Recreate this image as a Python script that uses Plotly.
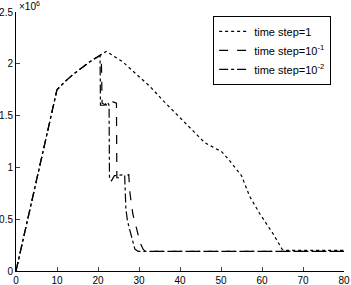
import plotly.graph_objects as go

# x: time, y: value (x10^6)
x_dt1 = [0, 10, 12, 14, 16, 18, 20, 22, 26, 30, 32.7, 36, 40.5, 46, 50.2, 52, 55, 57, 59.5, 62.7, 64.9, 66, 80]
y_dt1 = [0, 1.75, 1.83, 1.9, 1.96, 2.02, 2.07, 2.12, 2.02, 1.88, 1.78, 1.64, 1.46, 1.24, 1.15, 1.07, 0.92, 0.72, 0.55, 0.36, 0.21, 0.2, 0.2]

x_dt01 = [0, 10, 12, 14, 16, 18, 20, 20.8, 21.0, 22.0, 22.5, 24.5, 24.6, 25.5, 27.5, 27.8, 28.5, 29.5, 30.3, 31.0, 31.5, 80]
y_dt01 = [0, 1.75, 1.83, 1.9, 1.96, 2.02, 2.07, 2.09, 1.62, 1.6, 1.65, 1.62, 0.9, 0.9, 0.93, 0.75, 0.55, 0.38, 0.27, 0.21, 0.19, 0.19]

x_dt001 = [0, 10, 12, 14, 16, 18, 20.5, 20.6, 21.5, 22.3, 22.7, 22.8, 23.3, 24.0, 26.5, 26.8, 27.2, 27.8, 28.3, 29.0, 29.8, 80]
y_dt001 = [0, 1.75, 1.83, 1.9, 1.96, 2.02, 2.08, 1.6, 1.6, 1.63, 1.6, 0.89, 0.87, 0.92, 0.93, 0.6, 0.48, 0.38, 0.3, 0.21, 0.19, 0.19]

x_ticks = [0, 10, 20, 30, 40, 50, 60, 70, 80]
y_ticks = [0, 0.5, 1, 1.5, 2, 2.5]
y_tick_labels = ["0", "0.5", "1", "1.5", "2", "2.5"]

font = dict(family="Liberation Sans, Arial, sans-serif", size=10, color="black")

fig = go.Figure()
fig.add_trace(go.Scatter(x=x_dt1, y=y_dt1, mode="lines", name="time step=1",
                         line=dict(color="black", width=1.2, dash="dot")))
fig.add_trace(go.Scatter(x=x_dt01, y=y_dt01, mode="lines", name="time step=10<sup>-1</sup>",
                         line=dict(color="black", width=1.2, dash="dash")))
fig.add_trace(go.Scatter(x=x_dt001, y=y_dt001, mode="lines", name="time step=10<sup>-2</sup>",
                         line=dict(color="black", width=1.2, dash="dashdot")))

fig.update_layout(
    width=351, height=285,
    margin=dict(l=16, r=7, t=12, b=14),
    paper_bgcolor="white", plot_bgcolor="white",
    font=font,
    showlegend=True,
    legend=dict(x=0.601, y=0.985, xanchor="left", yanchor="top",
                bordercolor="black", borderwidth=1, bgcolor="white",
                font=dict(family="Liberation Sans, Arial, sans-serif", size=11, color="black"),
                tracegroupgap=0, itemwidth=30),
    xaxis=dict(range=[0, 80], tickvals=x_ticks, ticks="inside", ticklen=4,
               showline=True, linecolor="black", linewidth=1, showgrid=False,
               zeroline=False, tickfont=font, mirror=False, automargin=False),
    yaxis=dict(range=[0, 2.5], tickvals=y_ticks, ticktext=y_tick_labels, ticks="inside", ticklen=4,
               showline=True, linecolor="black", linewidth=1, showgrid=False,
               zeroline=False, tickfont=font, mirror=False, automargin=False),
    annotations=[dict(x=0, y=1, xref="paper", yref="paper", xanchor="left", yanchor="bottom",
                      text="×10<sup>6</sup>", showarrow=False, font=font, xshift=1, yshift=-2)],
)

fig.write_html("out.html", config={"displayModeBar": False},
               post_script="document.body.style.margin='0';document.body.style.overflow='hidden';")
